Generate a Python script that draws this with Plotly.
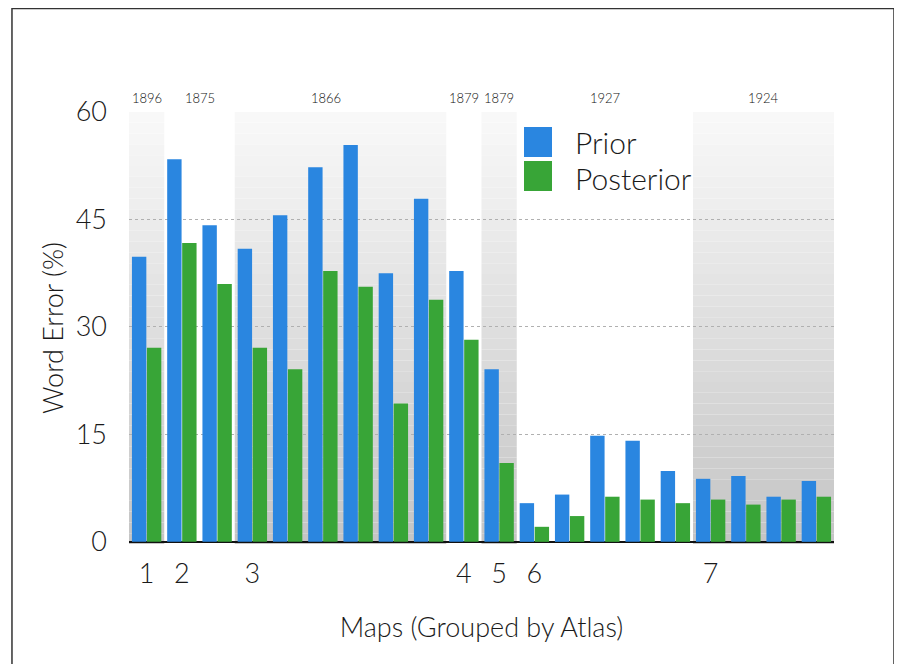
import plotly.graph_objects as go

# ---- data ----
maps = list(range(1, 21))
prior = [39.8, 53.4, 44.2, 40.9, 45.6, 52.3, 55.4, 37.5, 47.9, 37.8,
         24.1, 5.4, 6.6, 14.8, 14.1, 9.9, 8.8, 9.2, 6.3, 8.5]
posterior = [27.1, 41.7, 36.0, 27.1, 24.1, 37.8, 35.6, 19.3, 33.8, 28.2,
             11.0, 2.1, 3.6, 6.3, 5.9, 5.4, 5.9, 5.2, 5.9, 6.3]
atlas_labels = ["1", "2", "3", "4", "5", "6", "7"]
atlas_years = ["1896", "1875", "1866", "1879", "1879", "1927", "1924"]
atlas_sizes = [1, 2, 6, 1, 1, 5, 4]
y_ticks = [0, 15, 30, 45, 60]

FONT = "Lato"
TXT = "#1a1a1a"
BLUE = "#2a86e0"
GREEN = "#38a537"

x = [m - 1 for m in maps]

# group start/end indices
starts, ends = [], []
s = 0
for n in atlas_sizes:
    starts.append(s)
    ends.append(s + n - 1)
    s += n

fig = go.Figure()
fig.add_trace(go.Bar(x=x, y=prior, name="Prior", marker=dict(color=BLUE, line=dict(width=0))))
fig.add_trace(go.Bar(x=x, y=posterior, name="Posterior", marker=dict(color=GREEN, line=dict(width=0))))

shapes = []
YMIN, YMAX = -0.3, 60
# shaded bands on alternating groups, vertical gradient via slices
nslices = 40
top_c, bot_c = 249, 196
for gi in range(0, len(atlas_sizes), 2):
    x0 = starts[gi] - 0.5
    x1 = ends[gi] + 0.5
    for k in range(nslices):
        y0 = YMIN + (YMAX - YMIN) * k / nslices
        y1 = YMIN + (YMAX - YMIN) * (k + 1) / nslices
        t = (k + 0.5) / nslices
        c = int(round(bot_c + (top_c - bot_c) * t))
        shapes.append(dict(type="rect", xref="x", yref="y", x0=x0, x1=x1, y0=y0, y1=y1,
                           fillcolor=f"rgb({c},{c},{c})", line=dict(width=0), layer="below"))

# manual legend
shapes.append(dict(type="rect", xref="paper", yref="paper", x0=0.5603, x1=0.6, y0=0.8958, y1=0.9653,
                   fillcolor=BLUE, line=dict(width=0)))
shapes.append(dict(type="rect", xref="paper", yref="paper", x0=0.5603, x1=0.6, y0=0.8171, y1=0.8866,
                   fillcolor=GREEN, line=dict(width=0)))
# outer frame
shapes.append(dict(type="rect", xref="paper", yref="paper", x0=-0.166, x1=1.0851, y0=-0.35, y1=1.2396,
                   line=dict(color="#333333", width=1.5), fillcolor="rgba(0,0,0,0)"))

annotations = [
    dict(xref="paper", yref="paper", x=0.6300, y=0.9306, text="Prior", showarrow=False,
         xanchor="left", yanchor="middle", font=dict(family=FONT, size=30, color=TXT, weight=300)),
    dict(xref="paper", yref="paper", x=0.6300, y=0.8472, text="Posterior", showarrow=False,
         xanchor="left", yanchor="middle", font=dict(family=FONT, size=30, color=TXT, weight=300)),
]
year_x = [(st + en) / 2 for st, en in zip(starts, ends)]
year_x[2] = starts[2] + 2.1
for yx, yr in zip(year_x, atlas_years):
    annotations.append(dict(xref="x", yref="paper", x=yx, y=1.032, text=yr, showarrow=False,
                            xanchor="center", yanchor="middle",
                            font=dict(family=FONT, size=13, color="#111111", weight=300)))

fig.update_layout(
    width=894, height=656,
    margin=dict(l=121, r=68, t=104, b=120),
    paper_bgcolor="white", plot_bgcolor="white",
    barmode="group", bargap=0.15, bargroupgap=0.04,
    showlegend=False,
    shapes=shapes, annotations=annotations,
    font=dict(family=FONT, color=TXT, weight=300),
    xaxis=dict(range=[-0.5, 19.5], tickmode="array", tickvals=starts, ticktext=atlas_labels,
               showgrid=False, zeroline=False, showline=False, ticks="",
               tickfont=dict(size=27, color=TXT, weight=300), ticklabelstandoff=11,
               title=dict(text="Maps (Grouped by Atlas)", font=dict(size=27, color=TXT, weight=300), standoff=30)),
    yaxis=dict(range=[YMIN, YMAX], tickmode="array", tickvals=y_ticks,
               showgrid=True, gridcolor="#b0b0b0", griddash="dot", gridwidth=1,
               zeroline=True, zerolinecolor="#111111", zerolinewidth=1.5,
               showline=False, ticks="", tickfont=dict(size=27, color=TXT, weight=300), ticklabelstandoff=21,
               title=dict(text="Word Error (%)", font=dict(size=27, color=TXT, weight=300), standoff=4)),
)

fig.write_html("out.html")
